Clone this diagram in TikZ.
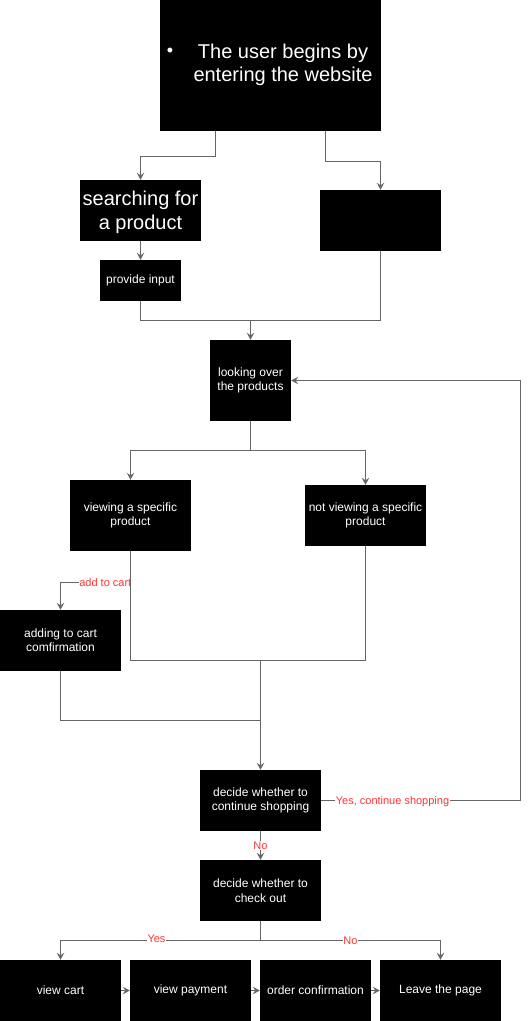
\documentclass[tikz,border=0pt]{standalone}
\usepackage{fontspec}
\setmainfont{Liberation Sans}
\usetikzlibrary{arrows.meta}
\definecolor{linegray}{HTML}{666666}
\definecolor{labelred}{HTML}{FF3333}
\begin{document}
\begin{tikzpicture}[x=1pt,y=-1pt,
  box/.style={fill=black,text=white,align=center,inner sep=0pt,
    font=\fontsize{12}{14.4}\selectfont},
  bigbox/.style={box,font=\fontsize{20}{24}\selectfont},
  line/.style={draw=linegray,line width=1pt},
  edge/.style={line,-{Stealth[length=7pt,width=7.5pt,inset=2.5pt]}},
  lab/.style={text=labelred,fill=white,inner sep=0.5pt,
    font=\fontsize{11}{13}\selectfont}]
\useasboundingbox (0,0) rectangle (529,1021);

% boxes
\node[bigbox,minimum width=221pt,minimum height=131pt] (top) at (270.5,65.5) {};
\node[text=white,font=\fontsize{20}{23.5}\selectfont,align=center,inner sep=0pt]
  (toptext) at (283,65) {The user begins by\\entering the website};
\node[text=white,font=\fontsize{18}{18}\selectfont,inner sep=0pt] (bullet) at (170,52) {•};
\node[bigbox,minimum width=121pt,minimum height=61pt] (search) at (140.5,210.5) {};
\node[text=white,font=\fontsize{20}{24}\selectfont,align=center,inner sep=0pt]
  (searchtext) at (140.5,212.5) {searching for\\a product};
\node[box,minimum width=121pt,minimum height=61pt] (blank) at (380.5,220.5) {};
\node[box,minimum width=81pt,minimum height=41pt] (input) at (140.5,280.5) {provide input};
\node[box,minimum width=81pt,minimum height=81pt] (look) at (250.5,380.5) {looking over\\the products};
\node[box,minimum width=121pt,minimum height=71pt] (view) at (130.5,515.5) {viewing a specific\\product};
\node[box,minimum width=121pt,minimum height=61pt] (notview) at (365.5,515.5) {not viewing a specific\\product};
\node[box,minimum width=121pt,minimum height=61pt] (add) at (60.5,640.5) {adding to cart\\comfirmation};
\node[box,minimum width=121pt,minimum height=61pt] (dec1) at (260.5,800.5) {decide whether to\\continue shopping};
\node[box,minimum width=121pt,minimum height=61pt] (dec2) at (260.5,890.5) {decide whether to\\check out};
\node[box,minimum width=121pt,minimum height=61pt] (cart) at (60.5,990.5) {view cart};
\node[box,minimum width=121pt,minimum height=61pt] (pay) at (190.5,990.5) {view payment};
\node[box,minimum width=111pt,minimum height=61pt] (order) at (315.5,990.5) {order confirmation};
\node[box,minimum width=121pt,minimum height=61pt] (leave) at (440.5,990.5) {Leave the page};

% junction points
\coordinate (j1) at (250.5,320.5);
\coordinate (j2) at (250.5,450.5);
\coordinate (j3) at (260.5,660.5);
\coordinate (j4) at (260.5,720.5);
\coordinate (j5) at (260.5,940.5);
\coordinate (loop) at (520.5,800.5);

% connectors
\draw[edge] ([xshift=-55pt]top.south) -- ++(0,25) -| (search.north);
\draw[edge] ([xshift=55pt]top.south) -- ++(0,30) -| (blank.north);
\draw[edge] (search.south) -- (input.north);
\draw[line] (input.south) |- (j1);
\draw[line] (blank.south) |- (j1);
\draw[edge] (j1) -- (look.north);
\draw[line] (look.south) -- (j2);
\draw[edge] (j2) -| (view.north);
\draw[edge] (j2) -| (notview.north);
\draw[edge] (view.south) -- ++(0,31) -| (add.north)
  node[lab,pos=0.18] {add to cart};
\draw[line] (view.south) |- (j3);
\draw[line] (notview.south) |- (j3);
\draw[line] (add.south) |- (j4);
\draw[edge] (j3) -- (dec1.north);
\draw[edge] (dec1.east) -- (loop) |- (look.east);
\node[lab] (yescont) at (392.5,802) {Yes, continue shopping};
\draw[edge] (dec1.south) -- (dec2.north) node[lab,midway] {No};
\draw[line] (dec2.south) -- (j5);
\draw[edge] (j5) -| (cart.north) node[lab,pos=0.26,yshift=1.5pt] {Yes};
\draw[edge] (j5) -| (leave.north) node[lab,pos=0.25] {No};
\draw[edge] (cart.east) -- (pay.west);
\draw[edge] (pay.east) -- (order.west);
\draw[edge] (order.east) -- (leave.west);
\end{tikzpicture}
\end{document}
